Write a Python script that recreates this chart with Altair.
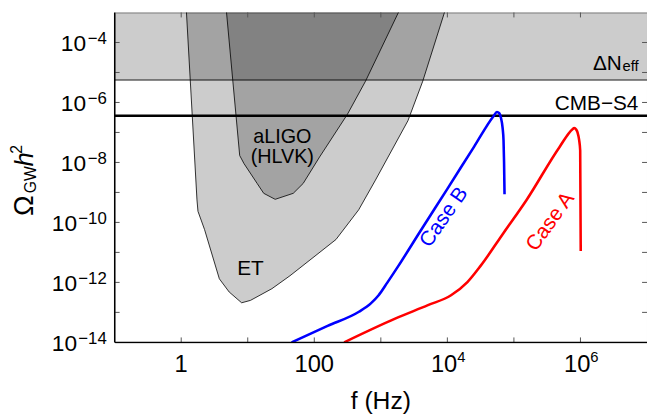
import altair as alt
import pandas as pd

# ---------------- values (log10 units) ----------------
# Case A (red) : log10 f [Hz], log10 Omega h^2
caseA_logf = [2.449, 3.215, 3.708, 4.055, 4.301, 4.499, 4.844, 5.190, 5.684, 5.881, 5.907, 5.935, 5.956, 5.980, 5.996, 6.004]
caseA_logO = [-14.0, -13.21, -12.76, -12.43, -11.99, -11.45, -10.35, -9.25, -7.49, -6.89, -6.85, -6.90, -7.00, -7.25, -7.60, -10.95]
# Case B (blue)
caseB_logf = [1.659, 2.2, 2.671, 2.85, 2.967, 3.1, 3.264, 3.6, 4.0, 4.4, 4.696, 4.745, 4.78, 4.804, 4.83, 4.844, 4.852, 4.859]
caseB_logO = [-14.0, -13.45, -12.98, -12.70, -12.43, -12.0, -11.45, -10.27, -8.88, -7.48, -6.45, -6.32, -6.36, -6.50, -6.85, -7.27, -8.0, -9.06]
# ET sensitivity region boundary
ET_logf = [0.079, 0.237, 0.252, 0.351, 0.573, 0.721, 0.908, 1.041, 1.363, 1.634, 2.326, 2.667, 2.919, 3.407, 3.630, 3.956]
ET_logO = [-3.0, -9.25, -9.63, -10.24, -11.88, -12.32, -12.68, -12.60, -12.21, -11.78, -10.57, -9.58, -8.59, -6.61, -5.29, -3.0]
# aLIGO (HLVK) sensitivity region boundary
LIGO_logf = [0.681, 0.879, 0.944, 1.141, 1.240, 1.412, 1.684, 1.833, 2.079, 2.499, 2.770, 3.264]
LIGO_logO = [-3.0, -7.77, -8.04, -8.70, -9.03, -9.23, -9.03, -8.70, -7.82, -6.39, -5.29, -3.0]
# horizontal bounds
neff_bound = 5.6e-6
cmbs4_bound = 3.6e-7
# axes
x_domain = [1e-1, 1e7]
y_domain = [1e-14, 1e-3]
x_decades = [1e0, 1e1, 1e2, 1e3, 1e4, 1e5, 1e6]
y_decades = [1e-13, 1e-12, 1e-11, 1e-10, 1e-9, 1e-8, 1e-7, 1e-6, 1e-5, 1e-4]
x_plain_vals = [1, 100]
x_plain_text = ["1", "100"]
x_pow_vals = [1e4, 1e6]
x_pow_exp = ["4", "6"]
y_pow2_vals = [1e-4, 1e-6, 1e-8]
y_pow2_exp = ["\u22124", "\u22126", "\u22128"]
y_pow3_vals = [1e-10, 1e-12, 1e-14]
y_pow3_exp = ["\u221210", "\u221212", "\u221214"]

# ---------------- build ----------------
FONT = "Liberation Sans"
W, H = 539, 334
xs = alt.Scale(type="log", domain=x_domain, nice=False)
ys = alt.Scale(type="log", domain=y_domain, nice=False)


def curve_df(lf, lo):
    return pd.DataFrame({"f": [10 ** v for v in lf], "o": [10 ** v for v in lo],
                         "top": [y_domain[1]] * len(lf), "i": list(range(len(lf)))})


def X(field="f"):
    return alt.X(f"{field}:Q", scale=xs, axis=None)


def Y(field="o"):
    return alt.Y(f"{field}:Q", scale=ys, axis=None)


layers = []

# Delta N_eff region
neff_df = pd.DataFrame({"o": [neff_bound]})
layers.append(alt.Chart(neff_df).mark_rect(color="black", fillOpacity=0.2, strokeWidth=0).encode(
    x=alt.value(0), x2=alt.value(W), y=Y(), y2=alt.value(0)))
layers.append(alt.Chart(neff_df).mark_rule(color="black", strokeWidth=0.9).encode(
    x=alt.value(0), x2=alt.value(W), y=Y()))

# ET and aLIGO regions
for lf, lo in [(ET_logf, ET_logO), (LIGO_logf, LIGO_logO)]:
    d = curve_df(lf, lo)
    layers.append(alt.Chart(d).mark_area(color="black", opacity=0.2).encode(
        x=X(), y=Y(), y2=alt.Y2("top:Q")))
    layers.append(alt.Chart(d).mark_line(color="black", strokeWidth=0.8).encode(
        x=X(), y=Y(), order="i:Q"))

# CMB-S4
cmb_df = pd.DataFrame({"o": [cmbs4_bound]})
layers.append(alt.Chart(cmb_df).mark_rule(color="black", strokeWidth=2.6).encode(
    x=alt.value(0), x2=alt.value(W), y=Y()))

# Cases
for lf, lo, col in [(caseB_logf, caseB_logO, "#0000ff"), (caseA_logf, caseA_logO, "#ff0000")]:
    layers.append(alt.Chart(curve_df(lf, lo)).mark_line(
        color=col, strokeWidth=2.6, interpolate="monotone", clip=True).encode(
        x=X(), y=Y(), order="i:Q"))

# ---- annotations (data coordinates) ----
def note(text, f, o, size=21, color="black", angle=0, align="center", baseline="middle", style="normal"):
    df = pd.DataFrame({"f": [f], "o": [o], "t": [text]})
    return alt.Chart(df).mark_text(font=FONT, fontSize=size, color=color, angle=angle, align=align,
                                   baseline=baseline, fontStyle=style).encode(x=X(), y=Y(), text="t:N")

layers.append(note("aLIGO", 10 ** 1.519, 10 ** -7.16, size=20))
layers.append(note("(HLVK)", 10 ** 1.519, 10 ** -7.82, size=20))
layers.append(note("ET", 10 ** 1.041, 10 ** -11.572))
layers.append(note("CMB\u2212S4", 10 ** 6.87, 10 ** -6.25, align="right", baseline="alphabetic"))
layers.append(note("\u0394N", 10 ** 6.622, 10 ** -4.909, align="right", baseline="alphabetic"))
layers.append(note("eff", 10 ** 6.874, 10 ** -4.965, size=15, align="right", baseline="alphabetic"))
layers.append(note("Case B", 10 ** 3.95, 10 ** -9.83, color="#0000ff", angle=305))
layers.append(note("Case A", 10 ** 5.55, 10 ** -9.98, color="#ff0000", angle=306))

# ---- frame: axis lines and inward ticks ----
TICK = "#555555"
xt = pd.DataFrame({"f": x_decades})
yt = pd.DataFrame({"o": y_decades})
layers.append(alt.Chart(xt).mark_rule(color=TICK, strokeWidth=1).encode(x=X(), y=alt.value(H), y2=alt.value(H - 5)))
layers.append(alt.Chart(xt).mark_rule(color=TICK, strokeWidth=1).encode(x=X(), y=alt.value(0), y2=alt.value(5)))
layers.append(alt.Chart(yt).mark_rule(color=TICK, strokeWidth=1).encode(y=Y(), x=alt.value(0), x2=alt.value(5)))
layers.append(alt.Chart(yt).mark_rule(color=TICK, strokeWidth=1).encode(y=Y(), x=alt.value(W), x2=alt.value(W - 5)))
one = pd.DataFrame({"t": [""]})
layers.append(alt.Chart(one).mark_rule(color="black", strokeWidth=1.4).encode(
    x=alt.value(0), y=alt.value(0), y2=alt.value(H)))
layers.append(alt.Chart(one).mark_rule(color="black", strokeWidth=1.4).encode(
    x=alt.value(0), x2=alt.value(W), y=alt.value(H)))

# ---- tick labels ----
XL, XE, YL, YE = 24, 15, 23, 17
layers.append(alt.Chart(pd.DataFrame({"f": x_plain_vals, "t": x_plain_text})).mark_text(
    font=FONT, fontSize=XL, color="black", align="center", baseline="alphabetic").encode(
    x=X(), y=alt.value(H + 30), text="t:N"))
xp = pd.DataFrame({"f": x_pow_vals, "e": x_pow_exp, "b": ["10"] * len(x_pow_vals)})
layers.append(alt.Chart(xp).mark_text(font=FONT, fontSize=XL, color="black", align="right",
                                      baseline="alphabetic", dx=10).encode(x=X(), y=alt.value(H + 30), text="b:N"))
layers.append(alt.Chart(xp).mark_text(font=FONT, fontSize=XE, color="black", align="left",
                                      baseline="alphabetic", dx=10).encode(x=X(), y=alt.value(H + 20), text="e:N"))
for vals, exps, bdx in [(y_pow2_vals, y_pow2_exp, -29), (y_pow3_vals, y_pow3_exp, -38)]:
    yp = pd.DataFrame({"o": vals, "e": exps, "b": ["10"] * len(vals)})
    layers.append(alt.Chart(yp).mark_text(font=FONT, fontSize=YL, color="black", align="right",
                                          baseline="alphabetic", dx=bdx, dy=9).encode(
        x=alt.value(0), y=Y(), text="b:N"))
    layers.append(alt.Chart(yp).mark_text(font=FONT, fontSize=YE, color="black", align="right",
                                          baseline="alphabetic", dx=-8, dy=2).encode(
        x=alt.value(0), y=Y(), text="e:N"))

# ---- axis titles ----
def ptext(text, x, y, size, angle=0, align="center", style="normal"):
    return alt.Chart(pd.DataFrame({"t": [text]})).mark_text(
        font=FONT, fontSize=size, color="black", angle=angle, align=align, baseline="alphabetic",
        fontStyle=style).encode(x=alt.value(x), y=alt.value(y), text="t:N")

layers.append(ptext("f (Hz)", W / 2, H + 67, 25))
layers.append(ptext("\u03a9", -83, 206, 28, angle=270, align="left"))
layers.append(ptext("GW", -80, 183, 16, angle=270, align="left"))
layers.append(ptext("h", -83, 156, 26, angle=270, align="left", style="italic"))
layers.append(ptext("2", -94, 143, 16, angle=270, align="left"))

chart = alt.layer(*layers).properties(
    width=W, height=H, autosize="none",
    padding={"left": 108, "top": 2, "right": 0, "bottom": 72},
).configure_view(stroke="#999999", strokeWidth=1)

chart.save("out.html", embed_options={"renderer": "svg", "actions": False})
